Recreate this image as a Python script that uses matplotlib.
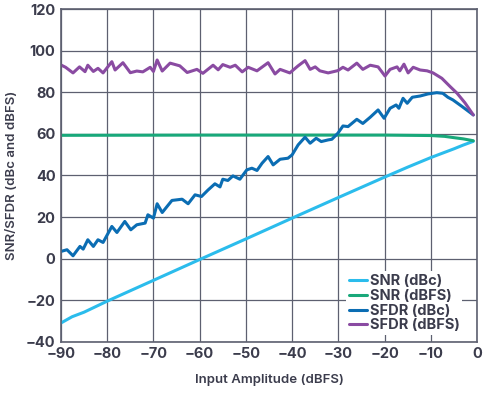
import matplotlib
matplotlib.use('Agg')
import matplotlib.pyplot as plt
import matplotlib.ticker as ticker

plt.rcParams['font.family'] = ['Inter', 'DejaVu Sans']
plt.rcParams['font.weight'] = 'semibold'
plt.rcParams['axes.labelweight'] = 'semibold'
plt.rcParams['axes.unicode_minus'] = True

# SNR (dBc)
snr_dbc_x = [-90, -87.6, -85, -80, -70, -60, -50, -40, -30, -20, -15, -10, -5, -3, -0.8]
snr_dbc_y = [-30.9, -27.9, -25.7, -20.4, -10.4, -0.4, 9.5, 19.5, 29.4, 39.2, 44.0, 48.6, 52.8, 54.6, 56.4]

# SNR (dBFS)
snr_dbfs_x = [-90, -60, -30, -20, -15, -10, -7, -5.4, -3, -0.8]
snr_dbfs_y = [59.3, 59.4, 59.4, 59.4, 59.3, 59.2, 58.8, 58.3, 57.6, 56.7]

# SFDR (dBc)
sfdr_dbc_x = [-90, -88.7, -87.4, -85.9, -85.2, -84.2, -83, -82, -80.9, -79, -77.9, -76.2,
              -74.9, -73.6, -71.8, -71.2, -70, -69.2, -68.1, -66, -63.8, -62.5, -61, -59.6,
              -58.2, -56.7, -55.6, -55, -53.9, -52.8, -51.3, -49.8, -48.7, -47.6, -46.5,
              -45.2, -44.1, -42.6, -40.9, -40, -38.7, -37.2, -36.1, -34.8, -33.7, -32.2,
              -31.4, -30.1, -29, -27.9, -26, -24.7, -23.1, -21.4, -20.1, -18.8, -17.5,
              -16.9, -16, -15.1, -14, -12.3, -10.6, -8.7, -7.4, -6.3, -5.2, -3.2, -0.8]
sfdr_dbc_y = [3.5, 4.3, 1.4, 5.9, 4.6, 9.1, 5.9, 9.1, 7.8, 15.5, 12.6, 17.9,
              13.9, 16.3, 17.1, 21.1, 19.5, 26.4, 22.2, 28.0, 28.6, 26.4, 30.7, 29.9,
              33.0, 36.0, 34.5, 38.2, 37.6, 39.8, 38.2, 42.7, 43.5, 42.4, 45.9,
              49.1, 45.1, 47.8, 48.3, 49.9, 54.7, 58.4, 55.5, 57.9, 56.3, 57.1,
              57.4, 60.3, 63.8, 63.5, 67.0, 65.0, 68.0, 71.5, 67.5, 72.3, 73.9,
              72.3, 77.1, 74.7, 77.6, 78.2, 79.2, 79.8, 79.5, 77.6, 76.3, 73.1, 69.1]

# SFDR (dBFS)
sfdr_dbfs_x = [-90, -89, -87.4, -86, -84.8, -84.2, -83, -82, -80.9, -79, -78.3, -76.6,
               -75, -73.6, -72.3, -70.7, -70, -69.2, -68.1, -66.4, -64.3, -62.7, -60.6,
               -59.3, -57.1, -56, -55, -53.4, -52.3, -50.8, -49.5, -47.6, -45.2, -43.7,
               -42.6, -40.5, -38.7, -37.2, -36.1, -35, -34, -32.2, -30.1, -29, -27.9,
               -26, -24.7, -23.1, -21.4, -19.9, -18.8, -17.3, -16.7, -15.8, -14.9, -13.8,
               -12.3, -10.8, -9.5, -7.6, -5.8, -4.3, -2.6, -0.8]
sfdr_dbfs_y = [93.1, 92.0, 89.3, 92.2, 89.9, 93.0, 90.0, 91.5, 89.3, 94.7, 90.7, 94.2,
               89.4, 90.2, 89.8, 92.0, 90.0, 95.5, 90.2, 94.0, 92.7, 89.5, 91.0,
               89.1, 93.0, 90.8, 93.3, 92.0, 93.0, 89.8, 92.0, 90.3, 94.2, 88.8,
               91.0, 89.3, 92.7, 95.2, 91.0, 92.2, 90.3, 89.3, 90.4, 92.0, 90.7,
               94.0, 91.0, 93.0, 92.2, 87.8, 91.0, 92.2, 90.3, 93.5, 89.3, 92.0,
               90.7, 90.3, 89.3, 86.7, 82.7, 79.5, 74.9, 69.1]

text_color = '#3b3c4c'
grid_color = '#5d6070'

fig = plt.figure(figsize=(5, 3.93), dpi=100)
ax = fig.add_axes([0.122, 0.13, 0.832, 0.847])

lw = 2.2
style = dict(lw=lw, solid_joinstyle='round', solid_capstyle='round')
ax.plot(snr_dbc_x, snr_dbc_y, color='#2bbcec', label='SNR (dBc)', **style)
ax.plot(snr_dbfs_x, snr_dbfs_y, color='#19a87a', label='SNR (dBFS)', **style)
ax.plot(sfdr_dbc_x, sfdr_dbc_y, color='#0b6db3', label='SFDR (dBc)', **style)
ax.plot(sfdr_dbfs_x, sfdr_dbfs_y, color='#8a4ba2', label='SFDR (dBFS)', **style)

ax.set_xlim(-90, 0)
ax.set_ylim(-40, 120)
ax.xaxis.set_major_locator(ticker.MultipleLocator(10))
ax.yaxis.set_major_locator(ticker.MultipleLocator(20))
ax.grid(True, color=grid_color, lw=0.9)
ax.set_axisbelow(True)
for s in ax.spines.values():
    s.set_color(grid_color)
    s.set_linewidth(1.2)
ax.tick_params(length=0, labelsize=10.5, colors=text_color, pad=4)
for lbl in ax.get_xticklabels() + ax.get_yticklabels():
    lbl.set_fontweight('bold')

ax.set_xlabel('Input Amplitude (dBFS)', fontsize=9.5, color=text_color, labelpad=9)
ax.set_ylabel('SNR/SFDR (dBc and dBFS)', fontsize=9.5, color=text_color, labelpad=6)

leg = ax.legend(loc='lower right', bbox_to_anchor=(0.965, 0.02),
                prop={'size': 10.5, 'weight': 'bold'},
                frameon=True, framealpha=1, edgecolor='none', fancybox=False,
                handlelength=1.2, handletextpad=0.2, labelspacing=0.05,
                borderpad=0.2, borderaxespad=0)
for t in leg.get_texts():
    t.set_color(text_color)

fig.savefig('out.png', dpi=100)
